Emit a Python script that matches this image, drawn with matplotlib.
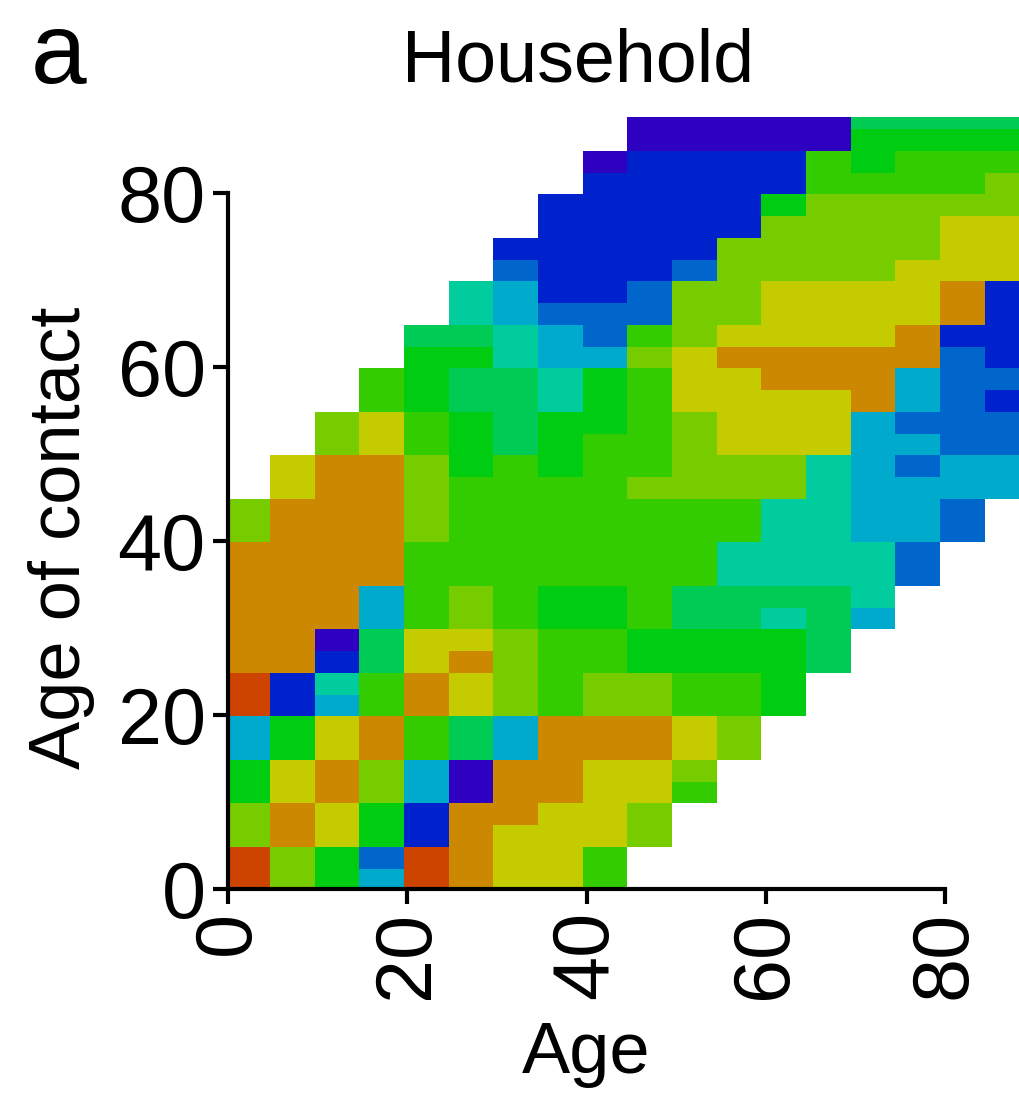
import numpy as np
import matplotlib
matplotlib.use("Agg")
import matplotlib.pyplot as plt
from matplotlib.colors import ListedColormap, BoundaryNorm

plt.rcParams['font.family'] = ['Liberation Sans', 'DejaVu Sans']

# contact level per age column, read bottom to top in 2.5 year steps (hex level, . = no data)
age_00 = "bb886633bbaaaaaa88"
age_05 = "88aa996611aaaaaaaa99"
age_10 = "6699aa993410aaaaaaaa88"
age_15 = "326688aa775533aaaaaa9977"
age_20 = "bb113377aa9977778888776665"
age_25 = "aaaa005599a98877777666556544"
age_30 = "999aaa338888777777775555443321"
age_35 = "9999aaaa777766777776664433211111"
age_40 = "779999aa88776677777776663221111110"
age_45 = "..8899aa8866777777877777872211111100"
age_50 = "....78997766557777888899988821111100"
age_55 = "......887766554477889999a98888111100"
age_60 = "........666645444488999aa99988861100"
age_65 = "..........5555444444999aa99988887700"
age_70 = "............3444333333aaa99988887665"
age_75 = "..............2233323233aa9998887765"
age_80 = "................2233222221aa99987765"
age_85 = "..................332212111199988765"

columns = [age_00, age_05, age_10, age_15, age_20, age_25, age_30, age_35, age_40,
           age_45, age_50, age_55, age_60, age_65, age_70, age_75, age_80, age_85]

level_colors = ['#2e00c0', '#0022cc', '#0066cc', '#00aacc', '#00cc9e', '#00cc55',
                '#00cc11', '#33cc00', '#77cc00', '#c4cc00', '#cc8800', '#cc4400']

ticks = [0, 20, 40, 60, 80]

# build grid (rows = age of contact, cols = age)
grid = np.full((36, 18), np.nan)
for j, col in enumerate(columns):
    for i, ch in enumerate(col):
        if ch != '.':
            grid[i, j] = int(ch, 16)
grid = np.ma.masked_invalid(grid)

W, H = 1019, 1093
fig = plt.figure(figsize=(W/100, H/100), dpi=100)
x0, x1, y0, y1 = 228, 1019, 889, 117
ax = fig.add_axes([x0/W, 1-y0/H, (x1-x0)/W, (y0-y1)/H])

cmap = ListedColormap(level_colors)
norm = BoundaryNorm(np.arange(-0.5, 12.5), 12)
xe = -0.3 + 4.985*np.arange(19)
ye = -0.15 + 2.5*np.arange(37)
ax.pcolormesh(xe, ye, grid, cmap=cmap, norm=norm, shading='flat', rasterized=True)

ax.set_xlim(0, (x1-x0)/8.9625)
ax.set_ylim(0, (y0-y1)/8.7)

for s in ['top', 'right']:
    ax.spines[s].set_visible(False)
for s in ['left', 'bottom']:
    ax.spines[s].set_linewidth(3)
    ax.spines[s].set_bounds(0, 80)
    ax.spines[s].set_zorder(5)

ax.set_xticks(ticks)
ax.set_yticks(ticks)
ax.tick_params(axis='both', length=11, width=3, labelsize=57, pad=5)
ax.tick_params(axis='x', labelrotation=90)

ax.set_xlabel('Age', fontsize=52, labelpad=0)
ax.xaxis.set_label_coords(358/(x1-x0), -(1073-y0)/(y0-y1), transform=ax.transAxes)
ax.xaxis.label.set_va('baseline')
ax.set_ylabel('Age of contact', fontsize=52)
ax.yaxis.set_label_coords(-(228-80)/(x1-x0), (y0-538)/(y0-y1), transform=ax.transAxes)
ax.yaxis.label.set_va('baseline')

fig.text(578/W, 1-81/H, 'Household', fontsize=53, ha='center', va='baseline')
fig.text(31/W, 1-83/H, 'a', fontsize=72, ha='left', va='baseline')

fig.savefig('out.png', dpi=100)
